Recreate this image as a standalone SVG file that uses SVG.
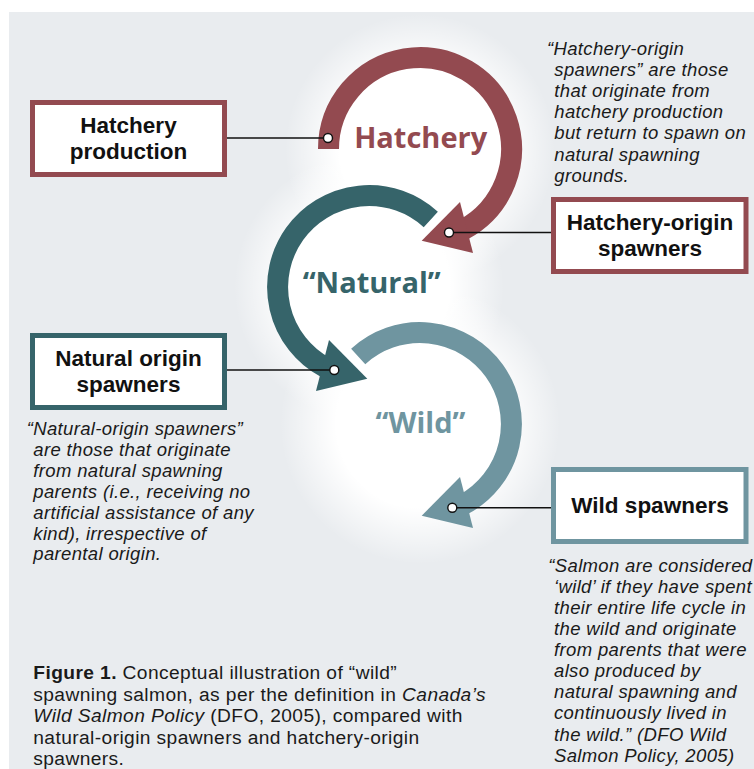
<svg xmlns="http://www.w3.org/2000/svg" width="754" height="769" viewBox="0 0 754 769">
<defs>
<style>
.panel{fill:#e9ecef}
.box{fill:#ffffff;stroke-width:5}
.bt{font-family:"Liberation Sans",Arial,sans-serif;font-weight:700;font-size:22.5px;fill:#111;text-anchor:middle}
.it{font-family:"Liberation Sans",Arial,sans-serif;font-style:italic;font-size:18.5px;letter-spacing:0.35px;fill:#1a1a1a}
.cap{font-family:"Liberation Sans",Arial,sans-serif;font-size:19.2px;letter-spacing:0.4px;fill:#1a1a1a}
.big{font-family:"Open Sans","Liberation Sans",sans-serif;font-weight:700;font-size:29px;text-anchor:middle}
.conn line{stroke:#111;stroke-width:1.4}
.dot{fill:#fff;stroke:#111;stroke-width:1.4}
.arc{fill:none;stroke-width:21}
</style>
<radialGradient id="glow">
<stop offset="0" stop-color="#fff" stop-opacity="1"/>
<stop offset="0.6" stop-color="#fff" stop-opacity="1"/>
<stop offset="1" stop-color="#fff" stop-opacity="0"/>
</radialGradient>
</defs>
<rect x="0" y="0" width="754" height="769" fill="#ffffff"/>
<rect class="panel" x="9" y="12" width="745" height="757"/>
<g id="glows">
<circle cx="420" cy="149" r="135" fill="url(#glow)"/>
<circle cx="369" cy="287" r="135" fill="url(#glow)"/>
<circle cx="420" cy="424" r="140" fill="url(#glow)"/>
</g>
<g id="hatchery-cycle">
<path class="arc" stroke="#934a50" d="M328.5,149 A91.5,91.5 0 1 1 463.7,229.4"/>
<polygon fill="#934a50" points="421.7,240.7 460,202 473,253"/>
<text class="big" x="420.7" y="148.3" fill="#934a50">Hatchery</text>
</g>
<g id="natural-cycle">
<path class="arc" stroke="#36646a" d="M430.8,219.5 A91.5,91.5 0 1 0 325.3,367.4"/>
<polygon fill="#36646a" points="367.3,378.7 329,340 316,391"/>
<text class="big" x="371.7" y="293.3" fill="#36646a">“Natural”</text>
</g>
<g id="wild-cycle">
<path class="arc" stroke="#6f95a0" d="M358.2,356.5 A91.5,91.5 0 1 1 463.7,504.4"/>
<polygon fill="#6f95a0" points="421.7,515.7 460,477 473,528"/>
<text class="big" x="420.5" y="432.7" fill="#6f95a0">“Wild”</text>
</g>
<g id="connectors" class="conn">
<line x1="227" y1="138" x2="328" y2="138"/>
<line x1="449" y1="232.5" x2="551" y2="232.5"/>
<line x1="227" y1="370" x2="334.3" y2="370"/>
<line x1="452.3" y1="507.7" x2="551" y2="507.7"/>
<circle class="dot" cx="328" cy="138" r="4.5"/>
<circle class="dot" cx="449" cy="232.5" r="4.5"/>
<circle class="dot" cx="334.3" cy="370" r="4.5"/>
<circle class="dot" cx="452.3" cy="507.7" r="4.5"/>
</g>
<g id="hatchery-production">
<rect class="box" x="32.5" y="102.5" width="192" height="72" stroke="#934a50"/>
<text class="bt" x="128.5" y="132.7">Hatchery</text>
<text class="bt" x="128.5" y="159.3">production</text>
</g>
<g id="hatchery-origin-spawners">
<rect class="box" x="553.5" y="199.5" width="192.5" height="72" stroke="#934a50"/>
<text class="bt" x="650" y="230">Hatchery-origin</text>
<text class="bt" x="650" y="256">spawners</text>
</g>
<g id="natural-origin-spawners">
<rect class="box" x="32.5" y="335.5" width="192" height="72" stroke="#36646a"/>
<text class="bt" x="128.5" y="366">Natural origin</text>
<text class="bt" x="128.5" y="392">spawners</text>
</g>
<g id="wild-spawners">
<rect class="box" x="553.5" y="469.5" width="192.5" height="72" stroke="#6f95a0"/>
<text class="bt" x="650" y="513.3">Wild spawners</text>
</g>
<g id="hatchery-note" class="it">
<text x="547" y="55">“Hatchery-origin</text>
<text x="554.3" y="76.1">spawners” are those</text>
<text x="554.3" y="97.2">that originate from</text>
<text x="554.3" y="118.3">hatchery production</text>
<text x="554.3" y="139.4">but return to spawn on</text>
<text x="554.3" y="160.5">natural spawning</text>
<text x="554.3" y="181.6">grounds.</text>
</g>
<g id="natural-note" class="it">
<text x="26.7" y="435">“Natural-origin spawners”</text>
<text x="33.3" y="455.9">are those that originate</text>
<text x="33.3" y="476.8">from natural spawning</text>
<text x="33.3" y="497.7">parents (i.e., receiving no</text>
<text x="33.3" y="518.6">artificial assistance of any</text>
<text x="33.3" y="539.5">kind), irrespective of</text>
<text x="33.3" y="560.4">parental origin.</text>
</g>
<g id="wild-note" class="it">
<text x="548.3" y="571.7">“Salmon are considered</text>
<text x="554" y="592.8">‘wild’ if they have spent</text>
<text x="554" y="613.9">their entire life cycle in</text>
<text x="554" y="635">the wild and originate</text>
<text x="554" y="656.1">from parents that were</text>
<text x="554" y="677.2">also produced by</text>
<text x="554" y="698.3">natural spawning and</text>
<text x="554" y="719.4">continuously lived in</text>
<text x="554" y="740.5">the wild.” (DFO Wild</text>
<text x="554" y="761.6">Salmon Policy, 2005)</text>
</g>
<g id="caption" class="cap">
<text x="33.3" y="679.3"><tspan font-weight="700">Figure 1.</tspan> Conceptual illustration of “wild”</text>
<text x="33.3" y="700.8">spawning salmon, as per the definition in <tspan font-style="italic">Canada’s</tspan></text>
<text x="33.3" y="722.3"><tspan font-style="italic">Wild Salmon Policy</tspan> (DFO, 2005), compared with</text>
<text x="33.3" y="743.8">natural-origin spawners and hatchery-origin</text>
<text x="33.3" y="765.3">spawners.</text>
</g>
</svg>
